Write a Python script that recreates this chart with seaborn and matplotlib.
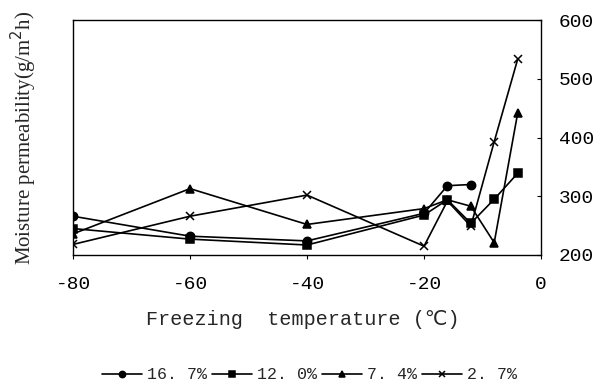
import numpy as np
import pandas as pd
import matplotlib
matplotlib.use("Agg")
import matplotlib.pyplot as plt
import seaborn as sns

temps = [-80, -60, -40, -20, -16, -12, -8, -4]
s_167 = [266, 232, 224, 271, 318, 320, np.nan, np.nan]
s_120 = [245, 227, 217, 268, 294, 254, 295, 339]
s_74 = [236, 313, 252, 279, 294, 283, 221, 441]
s_27 = [218, 266, 302, 215, 292, 249, 393, 533]
labels = ["16. 7%", "12. 0%", "7. 4%", "2. 7%"]
xticks = [-80, -60, -40, -20, 0]
xticklabels = ["-80", "-60", "-40", "-20", "0"]
yticks = [200, 300, 400, 500, 600]

sns.set_style("white")
plt.rcParams["font.family"] = ["Liberation Mono", "DejaVu Sans"]

fig = plt.figure(figsize=(5.99, 3.86), dpi=100)
ax = fig.add_axes([0.1219, 0.3394, 0.7813, 0.6086])

marker_list = ["o", "s", "^", "x"]
for lab, vals, mk in zip(labels, [s_167, s_120, s_74, s_27], marker_list):
    d = pd.DataFrame({"T": temps, "P": vals}).dropna()
    sns.lineplot(data=d, x="T", y="P", ax=ax, color="black", marker=mk,
                 markersize=6, linewidth=1.2,
                 markeredgecolor="black", markerfacecolor="black",
                 markeredgewidth=1.1, label=lab, sort=True)

ax.set_xlim(-80, 0)
ax.set_ylim(200, 600)
ax.set_xticks(xticks)
ax.set_xticklabels(xticklabels)
ax.set_yticks(yticks)
ax.yaxis.tick_right()
ax.tick_params(axis="y", which="both", direction="in", length=3, right=True, left=False,
               labelsize=14, pad=13, colors="black")
ax.tick_params(axis="x", direction="out", length=3, bottom=True, labelsize=14, pad=12,
               colors="black")
for s in ax.spines.values():
    s.set_color("black")
    s.set_linewidth(1.0)

ax.set_xlabel("Freezing  temperature (\u2103)", fontsize=14.5)
ax.xaxis.set_label_coords(0.492, -0.235)
ax.set_ylabel("Moisture permeability(g/m$^2$h)", fontsize=15,
              family=["Liberation Serif", "DejaVu Serif"])
ax.yaxis.set_label_position("left")
ax.yaxis.set_label_coords(-0.072, 0.5)

h, l = ax.get_legend_handles_labels()
ax.legend_.remove()
fig.legend(h, l, loc="center", bbox_to_anchor=(0.516, 0.0285), ncol=4,
           frameon=False, fontsize=12, handlelength=2.4, handletextpad=0.3,
           columnspacing=0.3, markerscale=0.75)

fig.savefig("out.png", dpi=100)
